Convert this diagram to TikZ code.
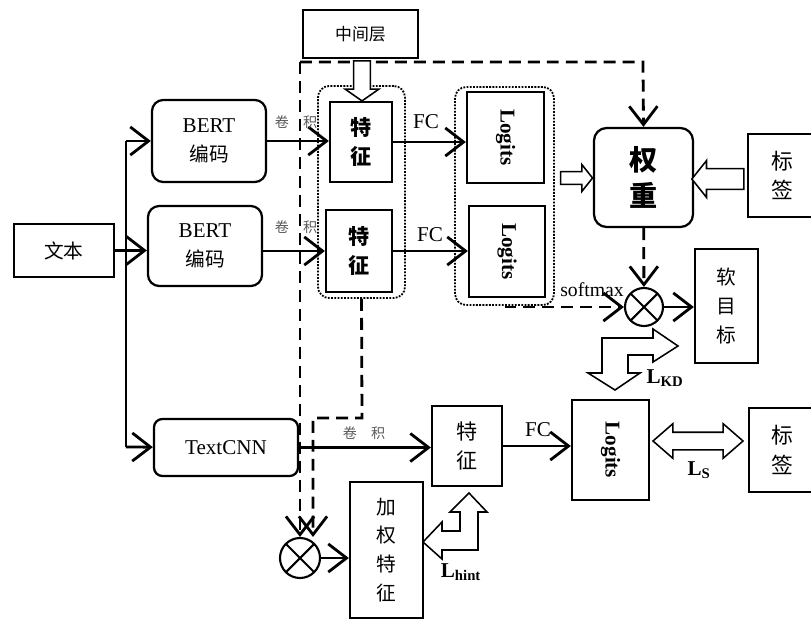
\documentclass[tikz,border=0pt]{standalone}
\usepackage{fontspec}
\usepackage{graphicx}
\setmainfont{Liberation Serif}
\newfontfamily\latin{Liberation Serif}
\newfontfamily\cjk{Noto Sans CJK SC}
\usetikzlibrary{arrows.meta, shapes.arrows, calc}
\tikzset{
  box/.style={draw=black, line width=1.6pt, align=center, inner sep=2pt,
              font=\cjk\fontsize{14}{20.5}\selectfont},
  rbox/.style={box, rounded corners=8pt},
  grp/.style={draw=black, densely dotted, line width=1.3pt, rounded corners=8pt, inner sep=0pt},
  logit/.style={box, font=\latin\bfseries\fontsize{15}{18}\selectfont},
  arr/.style={-{Straight Barb[length=13pt, width=20pt]}, line width=2pt},
  dsh/.style={arr, dash pattern=on 8.5pt off 5pt},
  lbl/.style={font=\cjk\fontsize{10}{12}\selectfont, text=black!65, inner sep=0pt},
  flbl/.style={font=\latin\fontsize{15}{18}\selectfont, inner sep=0pt},
  loss/.style={font=\latin\bfseries\fontsize{15}{18}\selectfont, inner sep=0pt},
  blk/.style={draw=black, line width=1.1pt, fill=white},
  blkarr/.style={single arrow, blk, inner xsep=0pt},
  dblarr/.style={double arrow, blk, inner xsep=0pt},
  otimes/.style={circle, draw=black, line width=1.5pt, minimum size=0.95cm, inner sep=0pt,
    path picture={\draw[line width=1.5pt]
      (path picture bounding box.north west) -- (path picture bounding box.south east)
      (path picture bounding box.north east) -- (path picture bounding box.south west);}},
}

\begin{document}
\begin{tikzpicture}[x=0.025cm, y=-0.025cm]
  \useasboundingbox (0,0) rectangle (811,620);
  % teacher side
  \node[box, minimum width=2.875cm, minimum height=1.2cm, font=\cjk\fontsize{12}{14}\selectfont] (mid) at (360.5,34) {中间层};
  \node[box, minimum width=2.5cm, minimum height=1.325cm] (text) at (64,250.5) {文本};
  \node[rbox, minimum width=2.85cm, minimum height=2.05cm] (bertA) at (209,141) {{\latin\fontsize{15}{20.5}\selectfont BERT}\\编码};
  \node[rbox, minimum width=2.85cm, minimum height=2cm] (bertB) at (205,246) {{\latin\fontsize{15}{20.5}\selectfont BERT}\\编码};
  \node[box, minimum width=1.55cm, minimum height=2cm, font=\cjk\bfseries\fontsize{15}{20}\selectfont] (featA) at (361,142) {特\\征};
  \node[box, minimum width=1.65cm, minimum height=2.05cm, font=\cjk\bfseries\fontsize{15}{20}\selectfont] (featB) at (359,251) {特\\征};
  \node[grp, minimum width=2.175cm, minimum height=5.3cm] (featgrp) at (361.5,192) {};
  \node[logit, minimum width=1.925cm, minimum height=2.275cm] (logitA) at (505.5,137.5) {\rotatebox{-90}{Logits}};
  \node[logit, minimum width=1.9cm, minimum height=2.275cm] (logitB) at (507,251.5) {\rotatebox{-90}{Logits}};
  \node[grp, minimum width=2.475cm, minimum height=5.45cm] (logitgrp) at (504.5,196) {};
  \node[rbox, minimum width=2.475cm, minimum height=2.475cm, rounded corners=9pt, font=\cjk\bfseries\fontsize{20}{25}\selectfont] (weight) at (643.5,177.5) {权\\重};
  \node[box, minimum width=1.7cm, minimum height=2.075cm, font=\cjk\fontsize{15.5}{21}\selectfont] (labelA) at (782,175.5) {标\\签};
  \node[otimes] (otA) at (644,307) {};
  \node[box, minimum width=1.575cm, minimum height=2.85cm] (soft) at (726.5,306) {软\\目\\标};
  % student side
  \node[rbox, rounded corners=6pt, minimum width=3.6cm, minimum height=1.425cm] (textcnn) at (226,447.5) {\latin\fontsize{15}{18}\selectfont TextCNN};
  \node[box, minimum width=1.75cm, minimum height=2cm, font=\cjk\fontsize{15}{20}\selectfont] (featC) at (467,446) {特\\征};
  \node[logit, minimum width=1.925cm, minimum height=2.5cm] (logitC) at (610.5,450) {\rotatebox{-90}{Logits}};
  \node[box, minimum width=1.675cm, minimum height=2.1cm, font=\cjk\fontsize{15.5}{21}\selectfont] (labelB) at (782.5,450) {标\\签};
  \node[box, minimum width=1.825cm, minimum height=3.4cm] (wfeat) at (386.5,550) {加\\权\\特\\征};
  \node[otimes, minimum size=1cm] (otB) at (300,558) {};

  % solid arrows
  \coordinate (jT) at (126,141);
  \coordinate (jB) at (126,447);
  \draw[line width=2pt] (jT) -- (jB);
  \draw[arr] (jT) -- (bertA);
  \draw[arr] (jB) -- (textcnn);
  \draw[arr] (text) -- (text -| bertB.west);
  \draw[arr] (bertA) -- (bertA -| featA.west);
  \draw[arr] (bertB.east |- featB) -- (featB);
  \draw[arr] (featA) -- (featA -| logitA.west);
  \draw[arr] (featB) -- (featB -| logitB.west);
  \draw[arr] (textcnn) -- (textcnn -| featC.west);
  \draw[arr] (featC) -- (featC -| logitC.west);
  \draw[arr] (otA) -- (otA -| soft.west);
  \draw[arr] (otB) -- (otB -| wfeat.west);

  % dashed arrows
  \coordinate (dTL) at (300,62);
  \coordinate (dTR) at (643,62);
  \coordinate (dBt) at (362,418);
  \coordinate (dBk) at (313,418);
  \draw[dsh] (dTL) -- (dTR) -- (weight.north);
  \draw[dsh] (dTL) -- (dTL |- otB.north);
  \draw[dsh] (featgrp.south) -- (dBt) -- (dBk) -- (dBk |- otB.north);
  \draw[dsh] (weight) -- (otA);
  \draw[dsh] (logitgrp.south |- otA) -- (otA);

  % block arrows
  \node[blkarr, rotate=-90, minimum height=1cm, minimum width=0.8cm, inner ysep=0.19cm,
        single arrow head extend=0.21cm, single arrow tip angle=110] (midarr) at (362,78) {};
  \node[blkarr, minimum height=0.8cm, minimum width=0.625cm, inner ysep=0.14cm,
        single arrow head extend=0.175cm, single arrow tip angle=103] (lgarr) at (574,178) {};
  \node[blkarr, rotate=180, minimum height=1.3cm, minimum width=0.875cm, inner ysep=0.24cm,
        single arrow head extend=0.2cm, single arrow tip angle=103] (lbarr) at (722,179) {};
  \node[dblarr, minimum height=2.25cm, minimum width=0.825cm, inner ysep=0.2cm,
        double arrow head extend=0.2125cm, double arrow tip angle=82] (lsarr) at (698,441) {};
  \draw[blk] (602,373) -- (588,373) -- (615,390) -- (640,373) -- (628,373) -- (628,355) -- (653,355)
    -- (653,362) -- (678,346) -- (653,329) -- (653,338) -- (602,338) -- cycle;
  \draw[blk] (423,542) -- (442,522) -- (442,531) -- (460,531) -- (460,512) -- (450,512) -- (469,493)
    -- (487,512) -- (478,512) -- (478,550) -- (442,550) -- (442,559) -- cycle;

  % labels
  \node[lbl] (convA) at (296,122) {卷\quad 积};
  \node[lbl] (convB) at (296,227) {卷\quad 积};
  \node[lbl] (convC) at (364,433) {卷\quad 积};
  \node[flbl] (fcA) at (426,122) {FC};
  \node[flbl] (fcB) at (430,235) {FC};
  \node[flbl] (fcC) at (538,430) {FC};
  \node[flbl, font=\latin\fontsize{14}{16}\selectfont] (smax) at (592,290) {softmax};
  \node[loss] (lkd) at (665,378) {L\textsubscript{KD}};
  \node[loss] (ls) at (699,470) {L\textsubscript{S}};
  \node[loss] (lhint) at (461,572) {L\textsubscript{hint}};
\end{tikzpicture}
\end{document}
